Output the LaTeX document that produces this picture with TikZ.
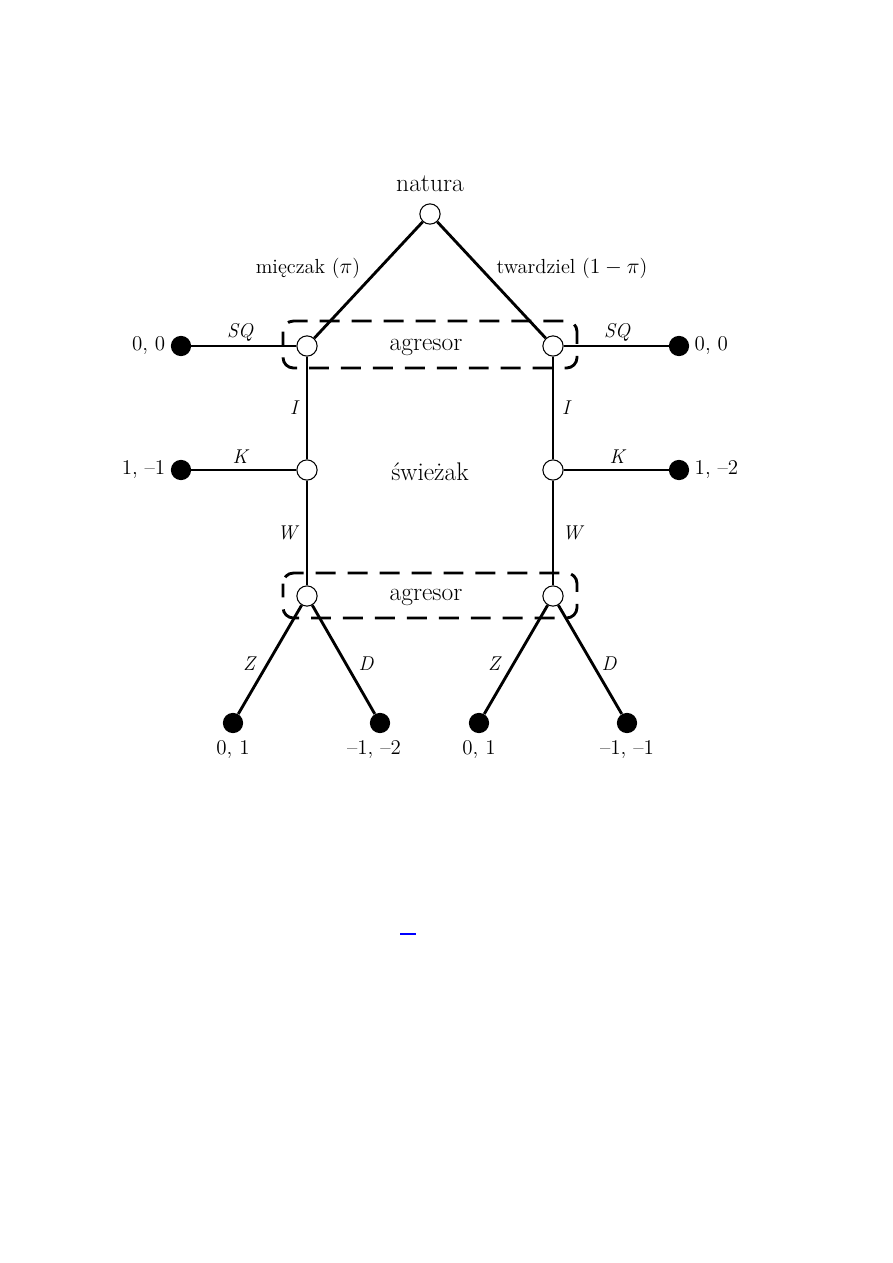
\documentclass[tikz,border=0pt]{standalone}
\begin{document}
\begin{tikzpicture}[x=0.6667pt,y=-0.6667pt,
  dec/.style={circle,draw,fill=white,line width=0.7pt,minimum size=13.5pt,inner sep=0pt},
  term/.style={circle,fill=black,minimum size=13.5pt,inner sep=0pt},
  edge/.style={line width=1.9pt},
  infoset/.style={line width=1.9pt,dash pattern=on 13.3pt off 8pt,dash phase=4pt,rounded corners=7pt},
  big/.style={font=\fontsize{17}{20}\selectfont},
  lab/.style={font=\fontsize{13.6}{16}\selectfont},
  pay/.style={font=\fontsize{14}{16}\selectfont},
  act/.style={font=\fontsize{13.3}{15}\selectfont\itshape}]
\useasboundingbox (0,0) rectangle (893,1263);
% information sets
\draw[infoset] (283,321) rectangle (577,368);
\draw[infoset] (283,573) rectangle (577,618);
% nodes
\node[dec] (n) at (430,214) {};
\node[dec] (a1) at (307,346) {};
\node[dec] (a2) at (553,346) {};
\node[dec] (s1) at (307,470) {};
\node[dec] (s2) at (553,470) {};
\node[dec] (b1) at (307,596) {};
\node[dec] (b2) at (553,596) {};
\node[term] (t1) at (181,346) {};
\node[term] (t2) at (679,346) {};
\node[term] (t3) at (181,470) {};
\node[term] (t4) at (679,470) {};
\node[term] (t5) at (233,723) {};
\node[term] (t6) at (380,723) {};
\node[term] (t7) at (479,723) {};
\node[term] (t8) at (627,723) {};
% edges
\draw[edge] (n) -- (a1);
\draw[edge] (n) -- (a2);
\draw[edge] (a1) -- (t1);
\draw[edge] (a2) -- (t2);
\draw[edge] (a1) -- (s1);
\draw[edge] (a2) -- (s2);
\draw[edge] (s1) -- (t3);
\draw[edge] (s2) -- (t4);
\draw[edge] (s1) -- (b1);
\draw[edge] (s2) -- (b2);
\draw[edge] (b1) -- (t5);
\draw[edge] (b1) -- (t6);
\draw[edge] (b2) -- (t7);
\draw[edge] (b2) -- (t8);
% labels
\node[big] (ln) at (430,184) {natura};
\node[big] (la1) at (426,347) {agresor};
\node[big] (lsw) at (430,472) {świeżak};
\node[big] (la2) at (426,597) {agresor};
\node[lab] (lm) at (308,268) {mięczak ($\pi$)};
\node[lab] (lt) at (572,268) {twardziel ($1-\pi$)};
\node[act] (sq1) at (240,332) {SQ};
\node[act] (sq2) at (617,332) {SQ};
\node[act] (i1) at (294,408) {I};
\node[act] (i2) at (566,408) {I};
\node[act] (k1) at (240,457) {K};
\node[act] (k2) at (617,457) {K};
\node[act] (w1) at (287,533) {W};
\node[act] (w2) at (572,533) {W};
\node[act] (z1) at (249,664) {Z};
\node[act] (z2) at (494,664) {Z};
\node[act] (d1) at (366,664) {D};
\node[act] (d2) at (609,664) {D};
\node[pay,anchor=east] (p1) at (t1.west) {0, 0};
\node[pay,anchor=west] (p2) at (t2.east) {0, 0};
\node[pay,anchor=east] (p3) at (t3.west) {1, --1};
\node[pay,anchor=west] (p4) at (t4.east) {1, --2};
\node[pay] (p5) at (233,750) {0, 1};
\node[pay] (p6) at (374,750) {--1, --2};
\node[pay] (p7) at (479,750) {0, 1};
\node[pay] (p8) at (627,750) {--1, --1};
% stray link mark
\coordinate (bl1) at (400,934);
\coordinate (bl2) at (416,934);
\draw[blue,line width=1pt] (bl1) -- (bl2);
\end{tikzpicture}
\end{document}
